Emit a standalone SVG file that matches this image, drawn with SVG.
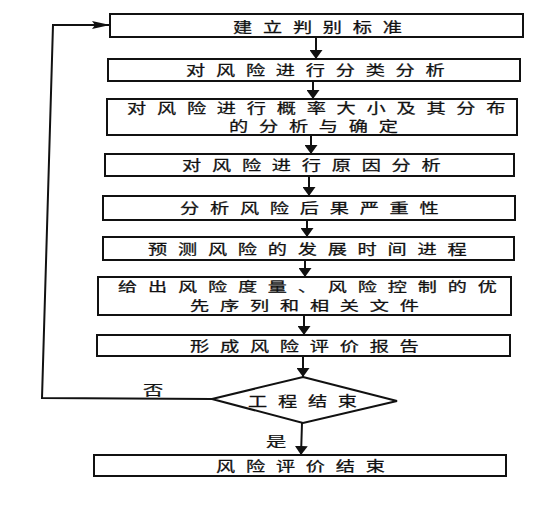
<svg xmlns="http://www.w3.org/2000/svg" width="560" height="515" viewBox="0 0 560 515">
<style>
.box{fill:#fff;stroke:#111;stroke-width:2}
.ln{fill:none;stroke:#111;stroke-width:2}
.t{font-family:"Noto Sans CJK SC","Noto Sans CJK TC",sans-serif;font-size:13.5px;letter-spacing:7.6px;fill:#111;stroke:#111;stroke-width:0.25}
.t2{font-size:13px;letter-spacing:7.4px}
</style>
<defs>
<marker id="ah" viewBox="0 0 9 13" refX="9" refY="6.5" markerWidth="9" markerHeight="13" markerUnits="userSpaceOnUse" orient="auto">
<path d="M0,0 L9,6.5 L0,13 z" fill="#111"/>
</marker>
<marker id="ahs" viewBox="0 0 18 8" refX="18" refY="4" markerWidth="18" markerHeight="8" markerUnits="userSpaceOnUse" orient="auto">
<path d="M0,0 L18,4 L0,8 L3,4 z" fill="#111"/>
</marker>
</defs>
<rect width="560" height="515" fill="#fff"/>
<g id="connectors">
<line class="ln" x1="316" y1="37" x2="316" y2="59" marker-end="url(#ah)"/>
<line class="ln" x1="313" y1="81" x2="313" y2="99" marker-end="url(#ah)"/>
<line class="ln" x1="311" y1="135" x2="311" y2="154" marker-end="url(#ah)"/>
<line class="ln" x1="309" y1="176" x2="309" y2="196" marker-end="url(#ah)"/>
<line class="ln" x1="307" y1="220" x2="307" y2="237" marker-end="url(#ah)"/>
<line class="ln" x1="305" y1="260" x2="305" y2="277" marker-end="url(#ah)"/>
<line class="ln" x1="304" y1="315" x2="304" y2="335" marker-end="url(#ah)"/>
<line class="ln" x1="303" y1="356" x2="303" y2="377" marker-end="url(#ah)"/>
<line class="ln" x1="302" y1="423" x2="301" y2="455" marker-end="url(#ah)"/>
<polyline class="ln" points="212,399 42,398 53,25 110,25" marker-end="url(#ahs)"/>
<text class="t" transform="translate(143,394.5) scale(1.5,1)">否</text>
<text class="t" transform="translate(266,445.5) scale(1.5,1)">是</text>
</g>
<g id="n1"><rect class="box" x="110" y="14" width="413" height="23"/><text class="t" transform="translate(233,31.5) scale(1.42,1)">建立判别标准</text></g>
<g id="n2"><rect class="box" x="108" y="59" width="412" height="22"/><text class="t" transform="translate(186,75) scale(1.42,1)">对风险进行分类分析</text></g>
<g id="n3"><rect class="box" x="107" y="99" width="410" height="36"/><text class="t" transform="translate(127,113) scale(1.42,1)">对风险进行概率大小及其分布</text><text class="t" transform="translate(229,131) scale(1.42,1)">的分析与确定</text></g>
<g id="n4"><rect class="box" x="105" y="154" width="409" height="22"/><text class="t" transform="translate(182,170) scale(1.42,1)">对风险进行原因分析</text></g>
<g id="n5"><rect class="box" x="103" y="196" width="412" height="24"/><text class="t" transform="translate(180,213) scale(1.42,1)">分析风险后果严重性</text></g>
<g id="n6"><rect class="box" x="103" y="237" width="411" height="23"/><text class="t" transform="translate(148,254) scale(1.42,1)">预测风险的发展时间进程</text></g>
<g id="n7"><rect class="box" x="98" y="277" width="413" height="38"/><text class="t t2" transform="translate(118,290.5) scale(1.47,1)">给出风险度量、风险控制的优</text><text class="t t2" transform="translate(190,309.5) scale(1.47,1)">先序列和相关文件</text></g>
<g id="n8"><rect class="box" x="97" y="335" width="413" height="21"/><text class="t" transform="translate(190,351) scale(1.42,1)">形成风险评价报告</text></g>
<g id="n9"><polygon class="box" points="303,377 397,401 303,423 212,399"/><text class="t" transform="translate(248,406) scale(1.42,1)">工程结束</text></g>
<g id="n10"><rect class="box" x="94" y="455" width="412" height="21"/><text class="t" transform="translate(216,471) scale(1.42,1)">风险评价结束</text></g>
</svg>
